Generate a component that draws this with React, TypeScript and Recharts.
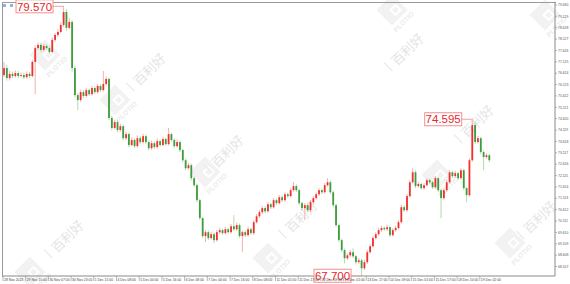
import React from 'react';
import { ComposedChart, Bar, XAxis, YAxis, ReferenceDot } from 'recharts';

const opens = [
  76.54, 76.85, 76.41, 76.59, 76.5, 76.63, 76.5, 76.54, 76.45, 76.59,
  76.5, 77.12, 77.73, 77.87, 77.65, 77.82, 77.73, 77.56, 78.09, 78.31,
  78.44, 78.75, 79.32, 78.62, 78.88, 76.85, 75.66, 75.44, 75.79, 75.62,
  75.88, 75.7, 75.97, 75.79, 76.06, 75.88, 76.15, 76.37, 74.65, 74.21,
  74.47, 74.12, 74.29, 73.76, 73.94, 73.46, 73.68, 73.41, 73.76, 73.59,
  73.85, 73.59, 73.32, 73.54, 73.37, 73.63, 73.46, 73.72, 73.5, 73.94,
  73.68, 73.41, 73.59, 73.24, 72.79, 72.44, 72.57, 72.0, 71.69, 71.03,
  70.24, 69.45, 69.62, 69.36, 69.53, 69.27, 69.62, 69.71, 69.58, 69.75,
  69.62, 69.88, 69.75, 69.93, 69.45, 69.62, 69.49, 69.75, 69.58, 70.06,
  70.32, 70.5, 70.68, 70.54, 70.85, 70.72, 71.03, 70.9, 71.16, 71.03,
  71.29, 71.21, 71.47, 71.65, 71.47, 70.9, 70.68, 70.81, 70.59, 70.94,
  71.12, 71.29, 71.47, 71.38, 71.69, 71.82, 71.38, 70.81, 69.93, 69.27,
  68.83, 68.47, 68.6, 68.74, 68.56, 68.3, 68.38, 68.03, 68.3, 68.74,
  69.0, 69.36, 69.53, 69.71, 69.8, 69.75, 69.84, 69.49, 69.71, 69.8,
  70.06, 70.72, 70.59, 71.21, 71.82, 72.26, 71.65, 71.74, 71.56, 71.69,
  71.91, 71.82, 71.6, 72.0, 71.47, 71.12, 71.47, 71.82, 72.26, 72.09,
  72.22, 72.0, 72.35, 71.56, 71.25, 72.79, 74.34, 73.59, 73.76, 73.15,
  72.93, 73.01,
];
const closes = [
  76.85, 76.41, 76.59, 76.5, 76.63, 76.5, 76.54, 76.45, 76.59, 76.5,
  77.12, 77.73, 77.87, 77.65, 77.82, 77.73, 77.56, 78.09, 78.31, 78.44,
  78.75, 79.32, 78.62, 78.88, 76.85, 75.66, 75.44, 75.79, 75.62, 75.88,
  75.7, 75.97, 75.79, 76.06, 75.88, 76.15, 76.37, 74.65, 74.21, 74.47,
  74.12, 74.29, 73.76, 73.94, 73.46, 73.68, 73.41, 73.76, 73.59, 73.85,
  73.59, 73.32, 73.54, 73.37, 73.63, 73.46, 73.72, 73.5, 73.94, 73.68,
  73.41, 73.59, 73.24, 72.79, 72.44, 72.57, 72.0, 71.69, 71.03, 70.24,
  69.45, 69.62, 69.36, 69.53, 69.27, 69.62, 69.71, 69.58, 69.75, 69.62,
  69.88, 69.75, 69.93, 69.45, 69.62, 69.49, 69.75, 69.58, 70.06, 70.32,
  70.5, 70.68, 70.54, 70.85, 70.72, 71.03, 70.9, 71.16, 71.03, 71.29,
  71.21, 71.47, 71.65, 71.47, 70.9, 70.68, 70.81, 70.59, 70.94, 71.12,
  71.29, 71.47, 71.38, 71.69, 71.82, 71.38, 70.81, 69.93, 69.27, 68.83,
  68.47, 68.6, 68.74, 68.56, 68.3, 68.38, 68.03, 68.3, 68.74, 69.0,
  69.36, 69.53, 69.71, 69.8, 69.75, 69.84, 69.49, 69.71, 69.8, 70.06,
  70.72, 70.59, 71.21, 71.82, 72.26, 71.65, 71.74, 71.56, 71.69, 71.91,
  71.82, 71.6, 72.0, 71.47, 71.12, 71.47, 71.82, 72.26, 72.09, 72.22,
  72.0, 72.35, 71.56, 71.25, 72.79, 74.34, 73.59, 73.76, 73.15, 72.93,
  73.01, 72.79,
];
const highs = [
  77.12, 76.98, 76.72, 76.7, 76.75, 76.72, 76.66, 76.65, 76.7, 76.68,
  77.22, 77.85, 77.98, 77.95, 77.92, 77.9, 77.8, 78.2, 78.4, 78.55,
  78.86, 79.57, 79.45, 79.05, 78.95, 76.95, 75.75, 75.9, 75.88, 75.98,
  75.95, 76.06, 76.05, 76.15, 76.14, 76.72, 76.48, 76.45, 74.75, 74.58,
  74.55, 74.4, 74.36, 74.05, 74.02, 73.8, 73.75, 73.88, 73.85, 73.96,
  73.92, 73.66, 73.65, 73.62, 73.75, 73.7, 73.82, 73.78, 74.21, 74.0,
  73.75, 73.7, 73.66, 73.3, 72.86, 72.68, 72.64, 72.08, 71.76, 71.1,
  70.3, 69.72, 69.7, 69.64, 69.6, 69.72, 69.82, 69.78, 69.86, 69.82,
  69.98, 70.37, 70.04, 70.0, 69.7, 69.7, 69.86, 69.82, 70.16, 70.42,
  70.6, 70.78, 70.75, 70.95, 70.92, 71.12, 71.1, 71.26, 71.24, 71.38,
  71.36, 71.56, 71.82, 71.72, 71.54, 70.96, 70.9, 70.88, 71.04, 71.22,
  71.38, 71.56, 71.55, 71.78, 72.0, 71.9, 71.45, 70.88, 70.0, 69.34,
  68.9, 68.7, 68.84, 68.91, 68.62, 68.48, 68.45, 68.4, 68.84, 69.1,
  69.45, 69.62, 69.8, 69.9, 69.88, 69.94, 69.9, 69.8, 69.9, 70.15,
  70.82, 70.8, 71.3, 71.92, 72.44, 72.34, 71.84, 71.8, 71.78, 72.0,
  71.98, 71.88, 72.1, 72.06, 71.54, 71.56, 71.92, 72.36, 72.32, 72.32,
  72.28, 72.44, 72.42, 71.62, 72.88, 74.595, 74.45, 73.86, 73.82, 73.22,
  73.1, 73.08,
];
const lows = [
  76.45, 76.3, 76.3, 76.4, 76.42, 76.4, 76.44, 76.36, 76.38, 76.42,
  76.44, 75.7, 77.66, 77.55, 77.58, 77.66, 77.48, 77.5, 78.0, 78.22,
  78.38, 78.66, 78.5, 78.55, 76.7, 75.55, 75.0, 75.36, 75.52, 75.55,
  75.62, 75.64, 75.7, 75.72, 75.8, 75.82, 76.08, 74.55, 74.1, 74.15,
  74.02, 74.05, 73.66, 73.68, 73.36, 73.4, 73.32, 73.35, 73.5, 73.52,
  73.5, 73.22, 73.25, 73.28, 73.3, 73.38, 73.4, 73.42, 73.44, 73.6,
  73.32, 73.35, 73.15, 72.7, 72.35, 72.38, 71.9, 71.6, 70.94, 70.15,
  69.36, 69.18, 69.27, 69.28, 69.13, 69.2, 69.55, 69.5, 69.52, 69.55,
  69.56, 69.68, 69.68, 69.36, 68.74, 69.4, 69.42, 69.5, 69.5, 70.0,
  70.25, 70.42, 70.46, 70.48, 70.64, 70.66, 70.82, 70.84, 70.95, 70.96,
  71.12, 71.15, 71.4, 71.38, 70.8, 70.58, 70.15, 70.5, 70.52, 70.88,
  71.05, 71.22, 71.3, 71.32, 71.62, 71.3, 70.72, 69.84, 69.18, 68.74,
  68.25, 68.4, 68.52, 68.48, 68.2, 68.22, 67.7, 67.95, 68.22, 68.68,
  68.94, 69.3, 69.46, 69.64, 69.68, 69.68, 69.4, 69.42, 69.64, 69.74,
  70.0, 70.52, 70.52, 71.15, 71.76, 71.56, 71.58, 71.48, 71.5, 71.62,
  71.75, 71.52, 71.54, 71.38, 70.24, 71.05, 71.4, 71.76, 72.0, 72.02,
  71.92, 71.94, 71.48, 70.94, 71.18, 72.72, 73.5, 73.52, 73.06, 72.35,
  72.86, 72.7,
];

// hourly bars per candle; candle i sits at bar index i*BARS_PER_CANDLE + 1
const BARS_PER_CANDLE = 2;
const TOTAL_BARS = 389;

const tickBars = [0, 16, 32, 48, 64, 80, 96, 112, 128, 144, 160, 176, 192, 208, 224, 240, 256, 272, 288, 304, 320, 336];
const tickLabels = [
  '28 Nov 2023', '29 Nov 15:00', '30 Nov 07:00', '30 Nov 23:00', '1 Dec 15:00', '4 Dec 08:00',
  '5 Dec 00:00', '5 Dec 16:00', '6 Dec 08:00', '7 Dec 00:00', '7 Dec 16:00', '8 Dec 08:00',
  '11 Dec 01:00', '11 Dec 17:00', '12 Dec 09:00', '13 Dec 01:00', '13 Dec 17:00', '14 Dec 09:00',
  '15 Dec 01:00', '15 Dec 17:00', '18 Dec 10:00', '19 Dec 02:00',
];
const yTicks = [
  79.63, 79.129, 78.628, 78.127, 77.626, 77.125, 76.624, 76.123, 75.622, 75.121, 74.62, 74.119,
  73.618, 73.117, 72.616, 72.115, 71.614, 71.113, 70.612, 70.111, 69.61, 69.109, 68.608, 68.107,
];

const tagCandles = [21, 165, 126];
const tagPrices = [79.57, 74.595, 67.7];

const data = opens.map((o, i) => ({
  bar: i * BARS_PER_CANDLE + 1,
  o,
  h: highs[i],
  l: lows[i],
  c: closes[i],
  range: [lows[i], highs[i]],
}));

const UP = '#f0302e';
const DOWN = '#3d9d3d';
const UP_WICK = '#f4a7a6';
const DOWN_WICK = '#a9d6a8';

const Candle = (props: any) => {
  const { x, y, width, height, payload } = props;
  if (payload == null || y == null || height == null) return null;
  const top = Math.min(y, y + height);
  const bot = Math.max(y, y + height);
  const { o, h, l, c } = payload;
  const span = h - l || 1;
  const toY = (p: number) => top + ((h - p) / span) * (bot - top);
  const cx = x + width / 2;
  const up = c >= o;
  const bTop = toY(Math.max(o, c));
  const bBot = toY(Math.min(o, c));
  return (
    <g>
      <line x1={cx} x2={cx} y1={top} y2={bot} stroke={up ? UP_WICK : DOWN_WICK} strokeWidth={0.9} />
      <rect x={cx - 0.9} y={bTop} width={1.8} height={Math.max(0.8, bBot - bTop)} fill={up ? UP : DOWN} />
    </g>
  );
};

const XTick = (props: any) => {
  const { x, y, payload } = props;
  const idx = tickBars.indexOf(payload.value);
  const label = idx >= 0 ? tickLabels[idx] : '';
  return (
    <g>
      <line x1={x} x2={x} y1={y} y2={y + 5} stroke="#888" strokeWidth={0.6} />
      <text x={x + 1} y={y + 4.8} fontSize={3.4} fill="#444" textAnchor="start" fontFamily="Liberation Sans, Arial, sans-serif">
        {label}
      </text>
    </g>
  );
};

const YTick = (props: any) => {
  const { x, y, payload } = props;
  return (
    <text x={x} y={y + 1.2} fontSize={3.4} fill="#555" textAnchor="start" fontFamily="Liberation Sans, Arial, sans-serif">
      {Number(payload.value).toFixed(3)}
    </text>
  );
};

const PriceTag = (props: any) => {
  const { cx, cy, text } = props;
  if (cx == null || cy == null) return null;
  const w = 37;
  const h = 13;
  const right = cx - 11;
  return (
    <g>
      <line x1={right} x2={cx} y1={cy} y2={cy} stroke="#f3a3a3" strokeWidth={1} />
      <rect x={right - w} y={cy - h / 2} width={w} height={h} fill="#fff" stroke="#f29090" strokeWidth={1} />
      <text x={right - w / 2} y={cy + 4.2} textAnchor="middle" fontSize={11.5} fill="#e8262a" fontFamily="Liberation Sans, Arial, sans-serif">
        {text}
      </text>
    </g>
  );
};

const wmTexts = [
  [150, 70], [228, 152], [302, 217], [68, 237], [408, 50], [478, 122], [540, 218],
];
const wmLogos = [
  [45, 55], [115, 100], [205, 172], [268, 258], [437, 175], [510, 243], [30, 272], [545, 15], [392, 10],
];

const Watermark = () => (
  <svg width={570} height={284} style={{ position: 'absolute', left: 0, top: 0 }}>
    {wmLogos.map(([x, y], i) => (
      <g key={'l' + i} transform={`translate(${x},${y}) rotate(-45)`}>
        <rect x={-11} y={-11} width={22} height={22} fill="#f2f2f2" />
        <rect x={-2} y={-2} width={9} height={9} fill="#ffffff" />
        <rect x={0} y={0} width={5} height={5} fill="#f2f2f2" />
        <text x={0} y={19} fontSize={7} fill="#ececec" textAnchor="middle" fontFamily="Liberation Sans, Arial, sans-serif" fontWeight="bold">
          PLOTIO
        </text>
      </g>
    ))}
    {wmTexts.map(([x, y], i) => (
      <g key={'t' + i} transform={`translate(${x},${y}) rotate(-45)`}>
        <line x1={-26} x2={-26} y1={-8} y2={4} stroke="#e6e6e6" strokeWidth={1} />
        <text x={0} y={4} fontSize={13} fill="#e4e4e4" textAnchor="middle" fontFamily="Noto Sans CJK SC, sans-serif">
          百利好
        </text>
      </g>
    ))}
    <rect x={3} y={4} width={3} height={3} fill="#8fb3e0" />
    <rect x={10} y={4} width={3} height={3} fill="#8fb3e0" />
  </svg>
);

export default function App() {
  return (
    <div style={{ position: 'absolute', left: 0, top: 0, width: 570, height: 284, background: '#fff', overflow: 'hidden' }}>
      <Watermark />
      <div style={{ position: 'absolute', left: 2, top: 2, width: 553, height: 274, borderTop: '1px solid #9a9a9a', borderLeft: '1px solid #9a9a9a' }} />
      <div style={{ position: 'absolute', left: 0, top: 0 }}>
        <ComposedChart width={570} height={284} data={data} margin={{ top: 2, right: 0, bottom: 0, left: 3 }}>
          <XAxis
            dataKey="bar"
            type="number"
            domain={[0, TOTAL_BARS]}
            ticks={tickBars}
            allowDataOverflow
            height={8}
            tickSize={0}
            tickMargin={0}
            tickLine={false}
            axisLine={{ stroke: '#8a8a8a' }}
            tick={<XTick />}
            interval={0}
          />
          <YAxis
            orientation="right"
            type="number"
            domain={[67.69, 79.76]}
            ticks={yTicks}
            allowDataOverflow
            width={15}
            tickSize={2}
            tickMargin={1}
            axisLine={{ stroke: '#8a8a8a' }}
            tickLine={{ stroke: '#8a8a8a', strokeWidth: 0.6 }}
            tick={<YTick />}
            interval={0}
          />
          <Bar dataKey="range" barSize={2} shape={<Candle />} isAnimationActive={false} />
          {tagCandles.map((ci, k) => (
            <ReferenceDot
              key={k}
              x={data[ci].bar}
              y={tagPrices[k]}
              r={0}
              ifOverflow="visible"
              shape={(p: any) => <PriceTag {...p} text={tagPrices[k].toFixed(3)} />}
            />
          ))}
        </ComposedChart>
      </div>
    </div>
  );
}
